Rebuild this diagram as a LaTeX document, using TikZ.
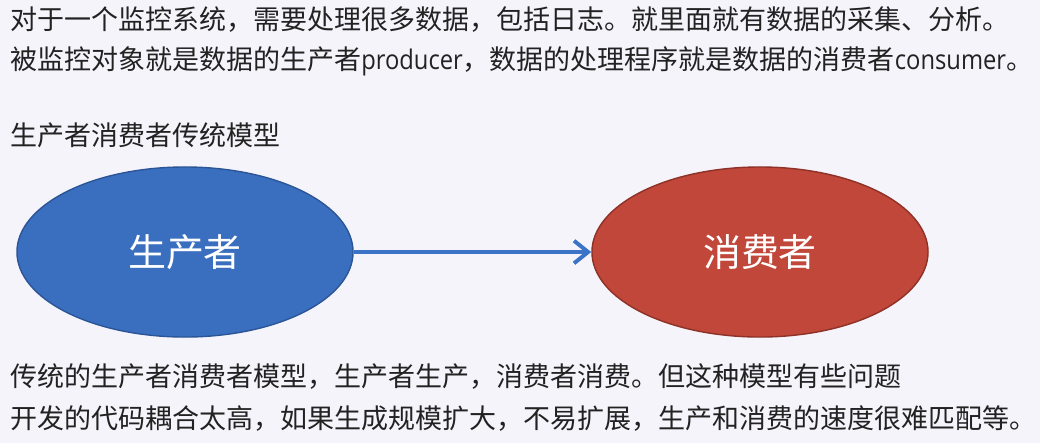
\documentclass[tikz,border=0pt]{standalone}
\usepackage{fontspec}
\setmainfont{Noto Sans CJK SC}
\newfontfamily\latinfont[FakeStretch=0.88]{Open Sans}
\usetikzlibrary{shapes.geometric,arrows.meta}
\definecolor{bgcol}{HTML}{F5F4FB}
\definecolor{txtcol}{HTML}{222222}
\definecolor{prodblue}{HTML}{3A6FC0}
\definecolor{prodedge}{HTML}{2B5597}
\definecolor{consred}{HTML}{C1473A}
\definecolor{consedge}{HTML}{8E3127}
\definecolor{arrowblue}{HTML}{3B73C6}
\begin{document}
\begin{tikzpicture}[x=0.025cm,y=-0.025cm]
\tikzset{
    line/.style={anchor=west, inner sep=0, text=txtcol, font=\fontsize{19.2}{20}\selectfont},
    role/.style={draw, ellipse, line width=1pt, minimum width=8.4cm, minimum height=4.25cm, text=white, font=\fontsize{27}{28}\selectfont},
    flow/.style={-{Straight Barb[length=10pt,width=16pt]}, line width=2.8pt, arrowblue}
}
\fill[bgcol] (0,0) rectangle (1040,443);
\useasboundingbox (0,0) rectangle (1040,443);

\draw node[line] (intro1) at (10,20) {对于一个监控系统，需要处理很多数据，包括日志。就里面就有数据的采集、分析。};
\draw node[line] (intro2) at (10,61) {被监控对象就是数据的生产者{\latinfont producer}，数据的处理程序就是数据的消费者{\latinfont consumer}。};
\draw node[line] (title) at (10,135) {生产者消费者传统模型};
\draw node[line] (note1) at (10,377) {传统的生产者消费者模型，生产者生产，消费者消费。但这种模型有些问题};
\draw node[line] (note2) at (10,419) {开发的代码耦合太高，如果生成规模扩大，不易扩展，生产和消费的速度很难匹配等。};

\draw node[role, fill=prodblue, draw=prodedge] (prod) at (185,252) {生产者};
\draw node[role, fill=consred, draw=consedge] (cons) at (760,252) {消费者};
\draw (prod) edge[flow] (cons);
\end{tikzpicture}
\end{document}
